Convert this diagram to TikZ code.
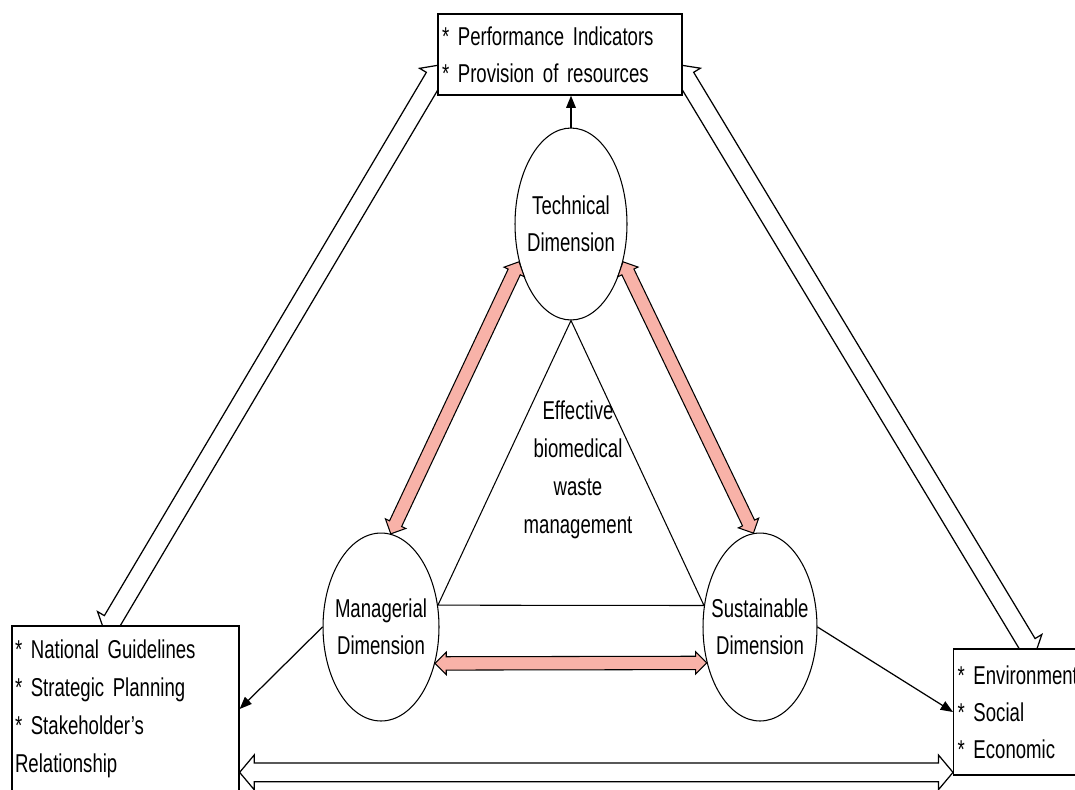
\documentclass[tikz,border=0pt]{standalone}
\usepackage{fontspec}
\setmainfont{Liberation Sans}[FakeStretch=0.72]
\usepackage{tikz}
\usetikzlibrary{arrows.meta}
\usetikzlibrary{shapes.geometric,shapes.arrows}
\usetikzlibrary{calc,backgrounds}
\definecolor{linkpink}{RGB}{248,178,168}
\newcommand{\nodefont}[1][21]{\fontsize{14.7}{#1}\selectfont\setlength{\spaceskip}{3pt}}
\tikzset{
  every node/.style={font=\nodefont},
  listbox/.style={draw=black, fill=white, line width=0.75pt, align=left, inner ysep=0pt},
  dimension/.style={ellipse, draw=black, fill=white, line width=0.6pt, align=center, inner xsep=-0.3cm, inner ysep=0pt},
  pinkarrow/.style={double arrow, draw=black, fill=linkpink, line width=0.6pt, inner xsep=0pt, inner ysep=3.5pt,
    double arrow head extend=2.6pt, double arrow tip angle=90, minimum width=0pt},
  hollowarrow/.style={double arrow, draw=black, fill=white, line width=0.7pt, inner xsep=0pt, inner ysep=5pt,
    double arrow head extend=4.5pt, double arrow tip angle=100, minimum width=0pt},
  blk/.style={line width=0.7pt, -{Triangle[length=7pt,width=5.5pt]}}
}
\newcommand{\bigarrow}[4]{\path let \p1=($(#4)-(#3)$), \n1={atan2(\y1,\x1)}, \n2={veclen(\x1,\y1)} in
  node[#1, rotate=\n1, minimum height=\n2+2*#2] at ($(#3)!0.5!(#4)$) {};}

\begin{document}
\begin{tikzpicture}[x=0.02cm, y=-0.02cm]
\useasboundingbox (0,0) rectangle (1075,789);
\clip (0,0) rectangle (1075,789);
\node[listbox, text width=4.72cm, inner xsep=0.08cm, minimum height=1.62cm] (perf) at (560,54.5) {{*} Performance Indicators\\{*} Provision of resources};
\node[listbox, text width=4.42cm, inner xsep=0.06cm, minimum height=3.32cm, font={\nodefont[21.7]}] (natl) at (125.5,709) {{*} National Guidelines\\{*} Strategic Planning\\{*} Stakeholder's\\Relationship};
\node[listbox, text width=4.2cm, inner xsep=0.08cm, minimum height=2.52cm, anchor=west] (env) at (953,712) {{*} Environment\\{*} Social\\{*} Economic};
\node[dimension, minimum width=2.24cm, minimum height=3.84cm] (tech) at (571,224) {Technical\\Dimension};
\node[dimension, minimum width=2.32cm, minimum height=3.76cm] (mgr) at (381,627) {Managerial\\Dimension};
\node[dimension, minimum width=2.28cm, minimum height=3.76cm] (sus) at (760,627) {Sustainable\\Dimension};
\node[align=center, font={\nodefont[21.7]}] (ebwm) at (578,469.5) {Effective\\biomedical\\waste\\management};

\draw[line width=0.6pt] (tech.south) -- (mgr.21) -- (sus.159) -- cycle;
\draw[blk] (tech.north) -- (tech.north |- perf.south);
\draw[blk] (mgr.west) -- (natl.east);
\draw[blk] (sus.east) -- (env.west);
\foreach \a/\b in {tech.216/mgr.84, tech.324/sus.94, mgr.326/sus.214} {\bigarrow{pinkarrow}{0pt}{\a}{\b}}

\coordinate (natltop) at ($(natl.north west)!0.43!(natl.north east)$);
\coordinate (perfleft) at ($(perf.west)!0.43!(perf.south west)$);
\coordinate (perfright) at ($(perf.east)!0.43!(perf.south east)$);
\coordinate (envtop) at ($(env.north west)+(77,0)$);
\coordinate (natlside) at ($(natl.north east)+(0,147)$);
\coordinate (envside) at ($(env.north west)+(0,124)$);
\begin{scope}[on background layer]
\bigarrow{hollowarrow}{5pt}{natltop}{perfleft}
\bigarrow{hollowarrow}{5pt}{perfright}{envtop}
\bigarrow{hollowarrow}{0pt}{natlside}{envside}
\end{scope}
\end{tikzpicture}
\end{document}
